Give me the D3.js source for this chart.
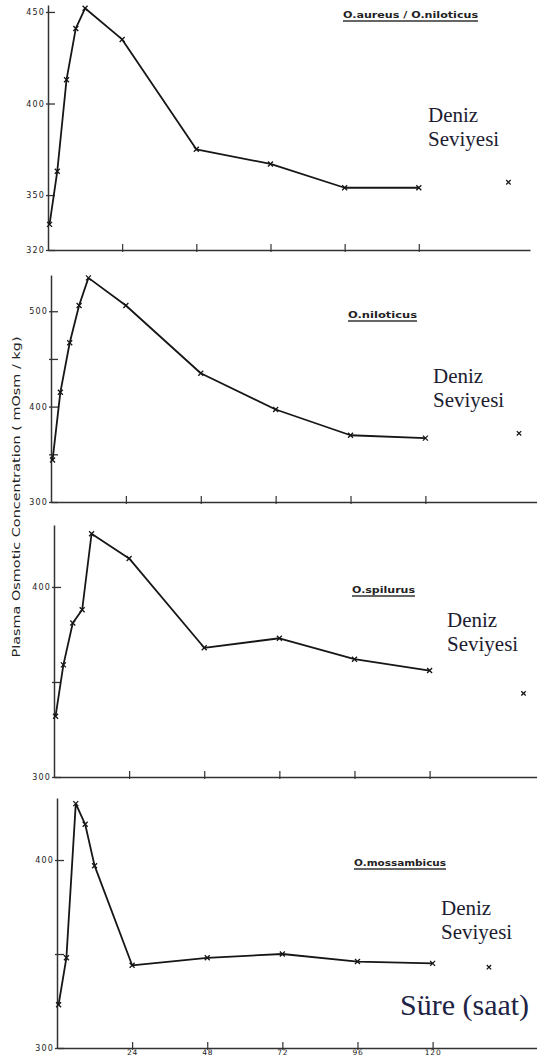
<!DOCTYPE html>
<html>
<head>
<meta charset="utf-8">
<script src="https://cdn.jsdelivr.net/npm/d3@7"></script>
<style>
  html, body { margin: 0; padding: 0; background: #fff; }
  svg { display: block; }
  .tick-label { font-family: 'DejaVu Sans', sans-serif; fill: #222; }
</style>
</head>
<body>
<svg id="chart" width="537" height="1058"></svg>
<script>
// sampling times (hours after transfer)
const hours = [0.5, 3, 6, 9, 12, 24, 48, 72, 96, 120];

// plasma osmolality, mOsm/kg
const aureusNiloticus = [334, 363, 413, 441, 452, 435, 375, 367, 354, 354];
const niloticus = [344, 415, 467, 506, 535, 506, 435, 397, 370, 367];
const spilurus = [332, 359, 381, 388, 428, 415, 368, 373, 362, 356];
const mossambicus = [323, 348, 430, 419, 397, 344, 348, 350, 346, 345];

// single sea-level reference point per species
const seaLevelHours = [149, 150, 150, 138];
const seaLevelValues = [357, 372, 344, 343];

const titles = ['O.aureus / O.niloticus', 'O.niloticus', 'O.spilurus', 'O.mossambicus'];
const yDomains = [[320, 453.8], [300, 538], [300, 432.6], [300, 433]];
const yTickValues = [[320, 350, 400, 450], [300, 350, 400, 450, 500], [300, 350, 400], [300, 350, 400]];
const yTickLabels = [[320, 350, 400, 450], [300, 400, 500], [300, 400], [300, 400]];
const xTickValues = [24, 48, 72, 96, 120];
const xMax = 156;

const seaLabel = ['Deniz', 'Seviyesi'];
const timeLabel = 'Süre (saat)';
const yLabel = 'Plasma  Osmotic  Concentration ( mOsm / kg)';

const series = [aureusNiloticus, niloticus, spilurus, mossambicus];

// pixel layout of the four stacked panels (scan is not perfectly aligned)
const layout = [
    { left: 48, k: 3.09, top: 5,   bottom: 250,  title: { x: 343, y: 18,  w: 135 }, sea: { x: 428, y: 122 } },
    { left: 51, k: 3.12, top: 275, bottom: 502,  title: { x: 348, y: 318, w: 69 },  sea: { x: 433, y: 383 } },
    { left: 54, k: 3.13, top: 525, bottom: 777,  title: { x: 352, y: 593, w: 63 },  sea: { x: 447, y: 627 } },
    { left: 57, k: 3.13, top: 798, bottom: 1048, title: { x: 354, y: 866, w: 92 },  sea: { x: 441, y: 915 } }
];

const svg = d3.select('#chart');
const ink = '#161616';

function cross(g, cx, cy, s) {
    g.append('path')
        .attr('d', `M${cx - s},${cy - s}L${cx + s},${cy + s}M${cx - s},${cy + s}L${cx + s},${cy - s}`)
        .attr('stroke', ink)
        .attr('stroke-width', 1.3)
        .attr('fill', 'none');
}

series.forEach((values, i) => {
    const L = layout[i];
    const g = svg.append('g').attr('class', 'panel');

    const x = d3.scaleLinear()
        .domain([0, xMax])
        .range([L.left, L.left + xMax * L.k]);
    const y = d3.scaleLinear()
        .domain(yDomains[i])
        .range([L.bottom, L.top]);

    // y axis
    const yAxis = d3.axisLeft(y)
        .tickValues(yTickValues[i])
        .tickSizeInner(-7)
        .tickSizeOuter(0)
        .tickPadding(3)
        .tickFormat(d => yTickLabels[i].includes(d) ? d : '');
    const ya = g.append('g')
        .attr('transform', `translate(${L.left},0)`)
        .call(yAxis);
    ya.select('.domain').attr('stroke', '#333').attr('stroke-width', 1.5);
    ya.selectAll('.tick line').attr('stroke', '#333').attr('stroke-width', 1.3).attr('x1', -2);
    ya.selectAll('.tick text')
        .attr('class', 'tick-label')
        .style('font-size', '8px')
        .style('letter-spacing', '1.2px')
        .attr('fill', '#222');

    // x axis
    const xAxis = d3.axisBottom(x)
        .tickValues(xTickValues)
        .tickSizeInner(-6)
        .tickSizeOuter(0)
        .tickPadding(2)
        .tickFormat(d => i === series.length - 1 ? d : '');
    const xa = g.append('g')
        .attr('transform', `translate(0,${L.bottom})`)
        .call(xAxis);
    xa.select('.domain').attr('stroke', '#333').attr('stroke-width', 1.5);
    xa.selectAll('.tick line').attr('stroke', '#333').attr('stroke-width', 1.2).attr('y1', 2);
    xa.selectAll('.tick text')
        .attr('class', 'tick-label')
        .style('font-size', '7.5px')
        .style('letter-spacing', '0.8px')
        .attr('fill', '#222');

    // data line
    const pts = hours.map((h, j) => [h, values[j]]);
    const line = d3.line()
        .x(d => x(d[0]))
        .y(d => y(d[1]));
    g.append('path')
        .datum(pts)
        .attr('d', line)
        .attr('fill', 'none')
        .attr('stroke', ink)
        .attr('stroke-width', 1.8)
        .attr('stroke-linejoin', 'round');

    pts.forEach(d => cross(g, x(d[0]), y(d[1]), 2.5));

    // sea level reference point
    cross(g, x(seaLevelHours[i]), y(seaLevelValues[i]), 2.2);

    // species title, underlined
    g.append('text')
        .attr('x', L.title.x)
        .attr('y', L.title.y)
        .attr('textLength', L.title.w)
        .attr('lengthAdjust', 'spacingAndGlyphs')
        .style('font-family', "'DejaVu Sans', sans-serif")
        .style('font-size', '8px')
        .style('font-weight', 'bold')
        .attr('fill', '#222')
        .text(titles[i]);
    g.append('line')
        .attr('x1', L.title.x)
        .attr('x2', L.title.x + L.title.w)
        .attr('y1', L.title.y + 3)
        .attr('y2', L.title.y + 3)
        .attr('stroke', '#333')
        .attr('stroke-width', 1.4);

    // "Deniz Seviyesi"
    seaLabel.forEach((word, j) => {
        g.append('text')
            .attr('x', L.sea.x)
            .attr('y', L.sea.y + j * 24)
            .attr('font-family', 'Liberation Serif')
            .attr('font-size', 21)
            .attr('fill', '#1c1c30')
            .text(word);
    });
});

// time axis caption
svg.append('text')
    .attr('x', 400)
    .attr('y', 1015)
    .attr('font-family', 'Liberation Serif')
    .attr('font-size', 30)
    .attr('fill', '#1d2344')
    .text(timeLabel);

// shared y axis caption
svg.append('text')
    .attr('transform', 'translate(20,497) rotate(-90)')
    .attr('text-anchor', 'middle')
    .attr('textLength', 321)
    .attr('lengthAdjust', 'spacingAndGlyphs')
    .style('font-family', "'DejaVu Sans', sans-serif")
    .style('font-size', '10px')
    .attr('fill', '#222')
    .text(yLabel);
</script>
</body>
</html>
